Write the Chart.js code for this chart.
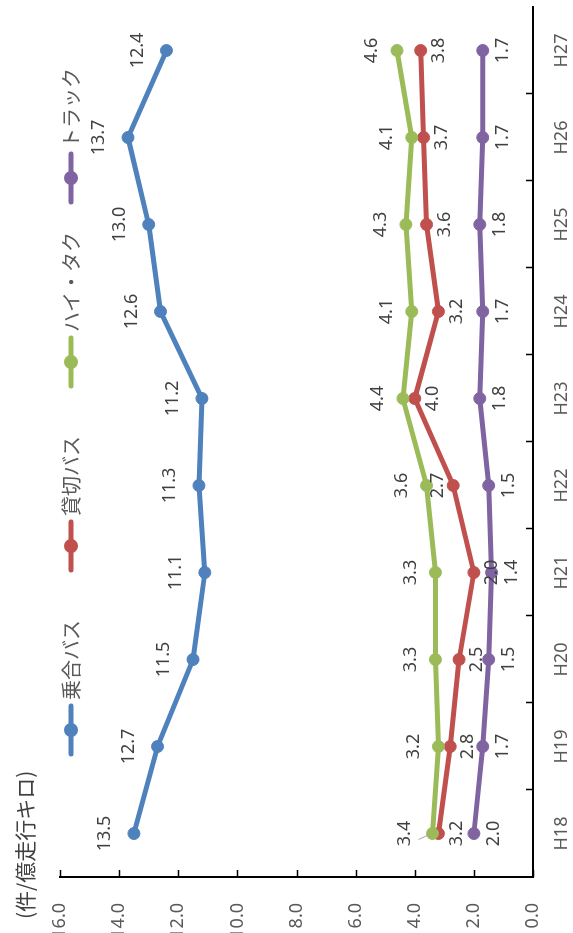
<!DOCTYPE html>
<html lang="ja">
<head>
<meta charset="utf-8">
<title>事故件数（件/億走行キロ）</title>
<script src="https://cdn.jsdelivr.net/npm/chart.js@4.4.1/dist/chart.umd.min.js"></script>
<style>
html,body{margin:0;padding:0;background:#fff;overflow:hidden}
body{width:573px;height:933px;position:relative}
/* the chart is drawn upright (933x573) and turned a quarter to the left, like the reference */
#wrap{position:absolute;left:0;top:0;width:933px;height:573px;transform-origin:0 0;transform:translateY(933px) rotate(-90deg)}
</style>
</head>
<body>
<div id="wrap"><canvas id="c" width="933" height="573"></canvas></div>
<script>
// 年度
const years = ["H18", "H19", "H20", "H21", "H22", "H23", "H24", "H25", "H26", "H27"];
// 件/億走行キロ
const busRoute   = [13.5, 12.7, 11.5, 11.1, 11.3, 11.2, 12.6, 13.0, 13.7, 12.4]; // 乗合バス
const busCharter = [3.2, 2.8, 2.5, 2.0, 2.7, 4.0, 3.2, 3.6, 3.7, 3.8];         // 貸切バス
const taxi       = [3.4, 3.2, 3.3, 3.3, 3.6, 4.4, 4.1, 4.3, 4.1, 4.6];         // ハイ・タク
const truck      = [2.0, 1.7, 1.5, 1.4, 1.5, 1.8, 1.7, 1.8, 1.7, 1.7];         // トラック
const seriesNames = ["乗合バス", "貸切バス", "ハイ・タク", "トラック"];
const yMin = 0, yMax = 16, yStep = 2;
const unitTitle = "(件/億走行キロ)";

// 見た目
const COLORS = ["#4F81BD", "#C0504D", "#9BBB59", "#8064A2"];
const LABEL_DY = [-29, 18, -25, 20];            // ラベルは点の上（負）/下（正）
const LABEL_FIX = { "1-4": -15, "2-0": -28 };    // Excel で手で動かしたラベル
const JP = '"Noto Sans CJK JP", "Noto Sans", sans-serif';
const NUM = '"Noto Sans", "Noto Sans CJK JP", sans-serif';

const series = [busRoute, busCharter, taxi, truck];

const decor = {
  id: "decor",
  afterDatasetsDraw(chart) {
    const { ctx, chartArea: a, scales: { x, y } } = chart;
    ctx.save();

    // 内向きの目盛り
    ctx.strokeStyle = "#000";
    ctx.lineWidth = 1.5;
    ctx.beginPath();
    y.ticks.forEach((t) => {
      const py = Math.round(y.getPixelForValue(t.value)) + 0.5;
      ctx.moveTo(a.left, py);
      ctx.lineTo(a.left + 7, py);
    });
    for (let i = 1; i < years.length; i++) {
      const px = Math.round((x.getPixelForValue(i - 1) + x.getPixelForValue(i)) / 2) + 0.5;
      ctx.moveTo(px, a.bottom);
      ctx.lineTo(px, a.bottom - 7);
    }
    ctx.stroke();

    // データラベル
    ctx.font = "18px " + NUM;
    ctx.fillStyle = "#404040";
    ctx.textAlign = "center";
    ctx.textBaseline = "middle";
    chart.data.datasets.forEach((ds, k) => {
      chart.getDatasetMeta(k).data.forEach((pt, i) => {
        const fix = LABEL_FIX[k + "-" + i];
        const dy = fix !== undefined ? fix : LABEL_DY[k];
        ctx.fillText(ds.data[i].toFixed(1), pt.x, pt.y + dy);
        if (k === 2 && i === 0) {
          // 引き出し線
          ctx.strokeStyle = "#A6A6A6";
          ctx.lineWidth = 1;
          ctx.beginPath();
          ctx.moveTo(pt.x - 6, pt.y - 14);
          ctx.lineTo(pt.x - 1, pt.y - 3);
          ctx.stroke();
        }
      });
    });

    // 凡例
    ctx.font = "20px " + JP;
    ctx.textAlign = "left";
    ctx.lineCap = "round";
    chart.data.datasets.forEach((ds, k) => {
      const cx = 203 + 184 * k, cy = 71;
      ctx.strokeStyle = COLORS[k];
      ctx.lineWidth = 5;
      ctx.beginPath();
      ctx.moveTo(cx - 24, cy);
      ctx.lineTo(cx + 24, cy);
      ctx.stroke();
      ctx.fillStyle = COLORS[k];
      ctx.beginPath();
      ctx.arc(cx, cy, 7, 0, Math.PI * 2);
      ctx.fill();
      ctx.fillStyle = "#595959";
      ctx.fillText(ds.label, cx + 30, cy);
    });

    // 単位
    ctx.font = "21px " + JP;
    ctx.fillStyle = "#404040";
    ctx.fillText(unitTitle, 14, 25);
    ctx.restore();
  }
};

new Chart(document.getElementById("c"), {
  type: "line",
  data: {
    labels: years,
    datasets: series.map((d, k) => ({
      label: seriesNames[k],
      data: d,
      borderColor: COLORS[k],
      backgroundColor: COLORS[k],
      pointBackgroundColor: COLORS[k],
      pointBorderColor: COLORS[k],
      borderWidth: 5,
      borderCapStyle: "round",
      borderJoinStyle: "round",
      pointRadius: 6,
      pointBorderWidth: 1,
      tension: 0,
      order: series.length - k,
      clip: false
    }))
  },
  options: {
    responsive: false,
    animation: false,
    devicePixelRatio: 1,
    layout: { padding: { top: 60, right: 0, bottom: 0, left: 0 } },
    plugins: { legend: { display: false }, tooltip: { enabled: false }, title: { display: false } },
    scales: {
      x: {
        type: "category",
        offset: true,
        grid: { display: false, drawTicks: false },
        border: { display: true, color: "#000", width: 2 },
        ticks: { font: { family: NUM, size: 18 }, color: "#595959", padding: 18, maxRotation: 0, autoSkip: false },
        afterFit(s) { s.height = 40; }
      },
      y: {
        min: yMin,
        max: yMax,
        grid: { display: false, drawTicks: false },
        border: { display: true, color: "#000", width: 2 },
        ticks: { stepSize: yStep, callback: (v) => v.toFixed(1), font: { family: NUM, size: 18 }, color: "#595959", padding: 26 },
        afterFit(s) { s.width = 56; }
      }
    }
  },
  plugins: [decor]
});
</script>
</body>
</html>
